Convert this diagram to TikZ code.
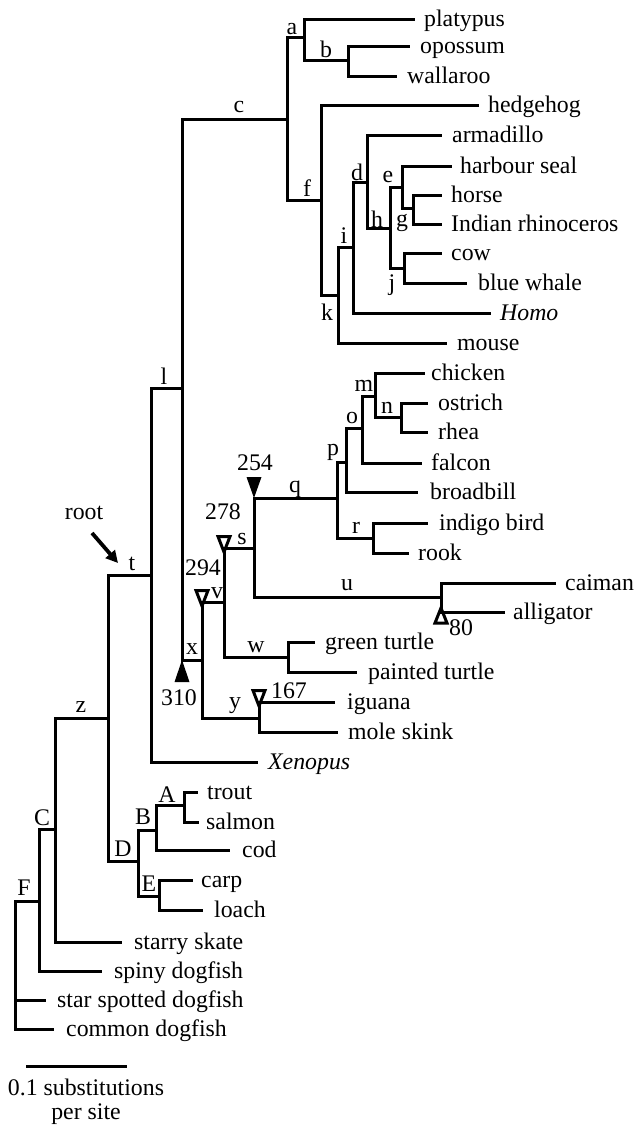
\documentclass[tikz,border=0pt]{standalone}
\usepackage{fontspec}
\setmainfont{Liberation Serif}
\usetikzlibrary{arrows.meta}
\begin{document}
\begin{tikzpicture}[x=1pt,y=-1pt,
  br/.style={line width=3pt},
  leaf/.style={anchor=base west,inner sep=0pt},
  lab/.style={inner sep=0pt},
  otri/.style={line width=3pt,line join=miter},
  every node/.style={font=\fontsize{23.8}{28}\selectfont}]
\useasboundingbox (0,0) rectangle (636,1128);
% ---------- internal nodes ----------
\coordinate (Nroot) at (15,901);
\coordinate (N39) at (39,901);
\coordinate (NC) at (55,829);
\coordinate (Nz) at (108,718);
\coordinate (Nt) at (151,575);
\coordinate (Nl) at (182,388);
\coordinate (Nc) at (287,119);
\coordinate (Na) at (304,37);
\coordinate (Nb) at (348,60);
\coordinate (Nf) at (321,200);
\coordinate (Nk) at (338,295);
\coordinate (Ni) at (353,247);
\coordinate (Nd) at (367,182);
\coordinate (Nh) at (390,228);
\coordinate (Ne) at (402,187);
\coordinate (Ng) at (413,208);
\coordinate (Nj) at (404,268);
\coordinate (Nx) at (202,660);
\coordinate (Nv) at (224,602);
\coordinate (Ns) at (254,548);
\coordinate (Nq) at (337,498);
\coordinate (Np) at (346,462);
\coordinate (No) at (362,428);
\coordinate (Nm) at (375,396);
\coordinate (Nn) at (401,417);
\coordinate (Nr) at (373,538);
\coordinate (Nu) at (441,597);
\coordinate (Nw) at (288,657);
\coordinate (Ny) at (259,718);
\coordinate (ND) at (138,861);
\coordinate (NB) at (156,830);
\coordinate (NA) at (184,805);
\coordinate (NE) at (159,896);
% ---------- leaf ends ----------
\coordinate (eplatypus) at (415,19);
\coordinate (eopossum) at (410,46);
\coordinate (ewallaroo) at (397,76);
\coordinate (ehedgehog) at (479,105);
\coordinate (earmadillo) at (442,135);
\coordinate (eseal) at (452,166);
\coordinate (ehorse) at (442,195);
\coordinate (erhino) at (442,224);
\coordinate (ecow) at (442,253);
\coordinate (ewhale) at (467,283);
\coordinate (ehomo) at (491,313);
\coordinate (emouse) at (447,343);
\coordinate (echicken) at (425,373);
\coordinate (eostrich) at (428,403);
\coordinate (erhea) at (428,432);
\coordinate (efalcon) at (422,463);
\coordinate (ebroadbill) at (418,492);
\coordinate (eindigo) at (428,523);
\coordinate (erook) at (409,553);
\coordinate (ecaiman) at (556,583);
\coordinate (ealligator) at (505,612);
\coordinate (egreen) at (315,642);
\coordinate (epainted) at (357,672);
\coordinate (eiguana) at (335,702);
\coordinate (eskink) at (338,732);
\coordinate (exenopus) at (258,762);
\coordinate (etrout) at (198,792);
\coordinate (esalmon) at (199,822);
\coordinate (ecod) at (230,850);
\coordinate (ecarp) at (193,880);
\coordinate (eloach) at (203,910);
\coordinate (eskate) at (122,942);
\coordinate (espiny) at (102,971);
\coordinate (estar) at (46,1000);
\coordinate (ecommon) at (54,1029);
% ---------- branches ----------
\draw[br] (N39) -- (Nroot) -- (Nroot |- ecommon) -- (ecommon);
\draw[br] (Nroot) |- (estar);
\draw[br] (N39) |- (NC);  \draw[br] (N39) |- (espiny);
\draw[br] (NC) |- (Nz);   \draw[br] (NC) |- (eskate);
\draw[br] (Nz) |- (Nt);   \draw[br] (Nz) |- (ND);
\draw[br] (Nt) |- (Nl);   \draw[br] (Nt) |- (exenopus);
\draw[br] (Nl) |- (Nc);   \draw[br] (Nl) |- (Nx);
\draw[br] (Nc) |- (Na);   \draw[br] (Nc) |- (Nf);
\draw[br] (Na) |- (eplatypus); \draw[br] (Na) |- (Nb);
\draw[br] (Nb) |- (eopossum);  \draw[br] (Nb) |- (ewallaroo);
\draw[br] (Nf) |- (ehedgehog); \draw[br] (Nf) |- (Nk);
\draw[br] (Nk) |- (Ni);   \draw[br] (Nk) |- (emouse);
\draw[br] (Ni) |- (Nd);   \draw[br] (Ni) |- (ehomo);
\draw[br] (Nd) |- (earmadillo); \draw[br] (Nd) |- (Nh);
\draw[br] (Nh) |- (Ne);   \draw[br] (Nh) |- (Nj);
\draw[br] (Ne) |- (eseal); \draw[br] (Ne) |- (Ng);
\draw[br] (Ng) |- (ehorse); \draw[br] (Ng) |- (erhino);
\draw[br] (Nj) |- (ecow); \draw[br] (Nj) |- (ewhale);
\draw[br] (Nx) |- (Nv);   \draw[br] (Nx) |- (Ny);
\draw[br] (Nv) |- (Ns);   \draw[br] (Nv) |- (Nw);
\draw[br] (Ns) |- (Nq);   \draw[br] (Ns) |- (Nu);
\draw[br] (Nq) |- (Np);   \draw[br] (Nq) |- (Nr);
\draw[br] (Np) |- (No);   \draw[br] (Np) |- (ebroadbill);
\draw[br] (No) |- (Nm);   \draw[br] (No) |- (efalcon);
\draw[br] (Nm) |- (echicken); \draw[br] (Nm) |- (Nn);
\draw[br] (Nn) |- (eostrich); \draw[br] (Nn) |- (erhea);
\draw[br] (Nr) |- (eindigo); \draw[br] (Nr) |- (erook);
\draw[br] (Nu) |- (ecaiman); \draw[br] (Nu) |- (ealligator);
\draw[br] (Nw) |- (egreen); \draw[br] (Nw) |- (epainted);
\draw[br] (Ny) |- (eiguana); \draw[br] (Ny) |- (eskink);
\draw[br] (ND) |- (NB);   \draw[br] (ND) |- (NE);
\draw[br] (NB) |- (NA);   \draw[br] (NB) |- (ecod);
\draw[br] (NA) |- (etrout); \draw[br] (NA) |- (esalmon);
\draw[br] (NE) |- (ecarp); \draw[br] (NE) |- (eloach);
% ---------- leaf labels ----------
\node[leaf] (platypus) at ([shift={(9,7)}]eplatypus) {platypus};
\node[leaf] (opossum) at ([shift={(10,7)}]eopossum) {opossum};
\node[leaf] (wallaroo) at ([shift={(10,7)}]ewallaroo) {wallaroo};
\node[leaf] (hedgehog) at ([shift={(9,7)}]ehedgehog) {hedgehog};
\node[leaf] (armadillo) at ([shift={(10,7)}]earmadillo) {armadillo};
\node[leaf] (seal) at ([shift={(8,7)}]eseal) {harbour seal};
\node[leaf] (horse) at ([shift={(9,7)}]ehorse) {horse};
\node[leaf] (rhino) at ([shift={(9,7)}]erhino) {Indian rhinoceros};
\node[leaf] (cow) at ([shift={(9,7)}]ecow) {cow};
\node[leaf] (whale) at ([shift={(11,7)}]ewhale) {blue whale};
\node[leaf] (homo) at ([shift={(9,7)}]ehomo) {\itshape Homo};
\node[leaf] (mouse) at ([shift={(10,7)}]emouse) {mouse};
\node[leaf] (chicken) at ([shift={(6,7)}]echicken) {chicken};
\node[leaf] (ostrich) at ([shift={(10,7)}]eostrich) {ostrich};
\node[leaf] (rhea) at ([shift={(10,7)}]erhea) {rhea};
\node[leaf] (falcon) at ([shift={(9,7)}]efalcon) {falcon};
\node[leaf] (broadbill) at ([shift={(12,7)}]ebroadbill) {broadbill};
\node[leaf] (indigo) at ([shift={(11,7)}]eindigo) {indigo bird};
\node[leaf] (rook) at ([shift={(9,7)}]erook) {rook};
\node[leaf] (caiman) at ([shift={(9,7)}]ecaiman) {caiman};
\node[leaf] (alligator) at ([shift={(8,7)}]ealligator) {alligator};
\node[leaf] (green) at ([shift={(10,7)}]egreen) {green turtle};
\node[leaf] (painted) at ([shift={(11,7)}]epainted) {painted turtle};
\node[leaf] (iguana) at ([shift={(12,7)}]eiguana) {iguana};
\node[leaf] (skink) at ([shift={(10,7)}]eskink) {mole skink};
\node[leaf] (xenopus) at ([shift={(10,7)}]exenopus) {\itshape Xenopus};
\node[leaf] (trout) at ([shift={(9,7)}]etrout) {trout};
\node[leaf] (salmon) at ([shift={(7,7)}]esalmon) {salmon};
\node[leaf] (cod) at ([shift={(12,7)}]ecod) {cod};
\node[leaf] (carp) at ([shift={(8,7)}]ecarp) {carp};
\node[leaf] (loach) at ([shift={(11,7)}]eloach) {loach};
\node[leaf] (skate) at ([shift={(12,7)}]eskate) {starry skate};
\node[leaf] (spiny) at ([shift={(12,7)}]espiny) {spiny dogfish};
\node[leaf] (star) at ([shift={(11,7)}]estar) {star spotted dogfish};
\node[leaf] (common) at ([shift={(12,7)}]ecommon) {common dogfish};
% ---------- branch labels ----------
\node[lab] (la) at (292,29) {a};
\node[lab] (lb) at (326,49) {b};
\node[lab] (lc) at (239,107) {c};
\node[lab] (lf) at (307,188) {f};
\node[lab] (ld) at (357,172) {d};
\node[lab] (le) at (388,177) {e};
\node[lab] (lh) at (377,219) {h};
\node[lab] (lg) at (402,223) {g};
\node[lab] (li) at (344,236) {i};
\node[lab] (lj) at (392,285) {j};
\node[lab] (lk) at (327,312) {k};
\node[lab] (ll) at (164,376) {l};
\node[lab] (lm) at (364,386) {m};
\node[lab] (ln) at (387,408) {n};
\node[lab] (lo) at (352,418) {o};
\node[lab] (lp) at (333,452) {p};
\node[lab] (lq) at (295,489) {q};
\node[lab] (lr) at (356,528) {r};
\node[lab] (ls) at (242,539) {s};
\node[lab] (lu) at (347,585) {u};
\node[lab] (lv) at (217,593) {v};
\node[lab] (lx) at (192,649) {x};
\node[lab] (lw) at (256,647) {w};
\node[lab] (ly) at (235,706) {y};
\node[lab] (lz) at (81,707) {z};
\node[lab] (lt) at (132,564) {t};
\node[lab] (lA) at (167,795) {A};
\node[lab] (lB) at (143,817) {B};
\node[lab] (lD) at (123,849) {D};
\node[lab] (lE) at (149,884) {E};
\node[lab] (lC) at (42,818) {C};
\node[lab] (lF) at (24,888) {F};
\node[lab] (n254) at (255,463) {254};
\node[lab] (n278) at (223,512) {278};
\node[lab] (n294) at (203,568) {294};
\node[lab] (n310) at (179,698) {310};
\node[lab] (n167) at (289,691) {167};
\node[lab] (n80) at (461,628) {80};
% ---------- markers ----------
\fill (Ns |- Nq) -- ++(-7.5,-21) -- ++(15,0) -- cycle;
\draw[otri] ([yshift=-4]Nv |- Ns) -- ++(-6,-15.5) -- ++(12,0) -- cycle;
\draw[otri] ([yshift=-4]Nx |- Nv) -- ++(-6,-15.5) -- ++(12,0) -- cycle;
\draw[otri] ([yshift=-4]Ny |- eiguana) -- ++(-6,-15.5) -- ++(12,0) -- cycle;
\fill (Nl |- Nx) -- ++(-7.5,22) -- ++(15,0) -- cycle;
\draw[otri] ([yshift=4]Nu |- ealligator) -- ++(-6,15) -- ++(12,0) -- cycle;
% ---------- root arrow ----------
\node[lab] (root) at (84,513) {root};
\coordinate (rootA) at (92,533);
\coordinate (rootB) at (118,563);
\draw[line width=3.8pt,-{Triangle[length=12pt,width=12pt]}] (rootA) -- (rootB);
% ---------- scale bar ----------
\coordinate (sb1) at (26,1066);
\coordinate (sb2) at (127,1066);
\draw[br] (sb1) -- (sb2);
\node[lab] (sbt1) at (86,1087) {0.1 substitutions};
\node[lab] (sbt2) at (86,1114) {per site};
\end{tikzpicture}
\end{document}
